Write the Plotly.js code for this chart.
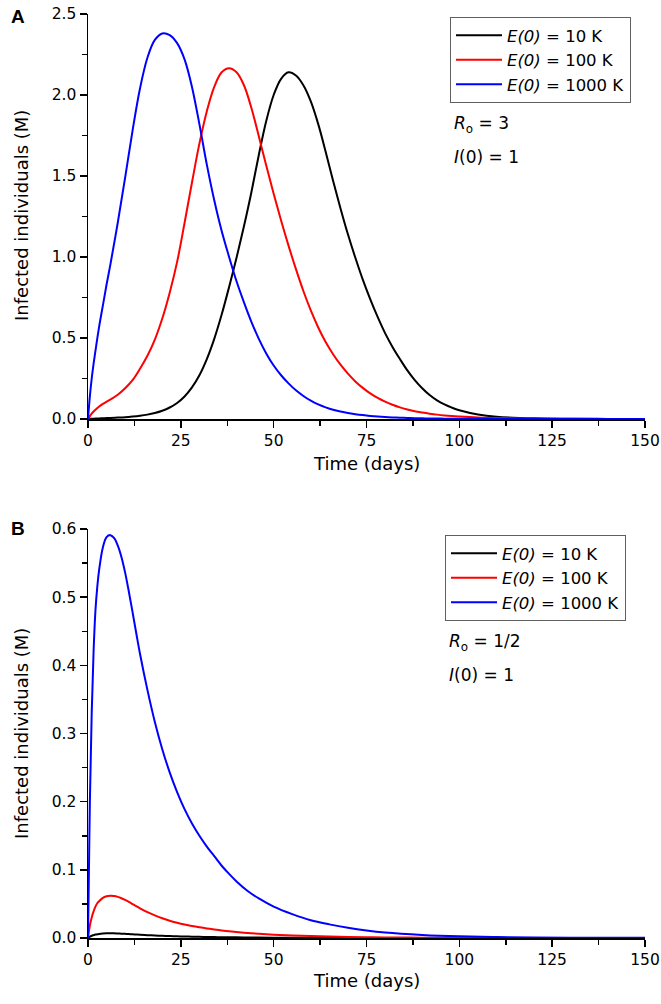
<!DOCTYPE html>
<html>
<head>
<meta charset="utf-8">
<script src="https://cdn.plot.ly/plotly-3.0.1.min.js"></script>
<style>
  html, body { margin: 0; padding: 0; background: #fff; }
  #chart { width: 661px; height: 1004px; }
</style>
</head>
<body>
<div id="chart"></div>
<script>
// ---------- Data ----------
const seriesNames = ['<i>E(0)</i> = 10 K', '<i>E(0)</i> = 100 K', '<i>E(0)</i> = 1000 K'];
const seriesColors = ['#000000', '#ff0000', '#0000ff'];

// Panel A: Ro = 3, I(0) = 1  (time in days, infected in millions)
const timeA = [0,0.5,1,1.5,2,3,4,5,6,8,10,12,14,16,18,20,22,24,26,28,30,32,34,36,38,40,42,44,46,48,50,52,54,56,58,60,62,64,66,68,70,72,74,76,78,80,82,84,86,88,90,92,94,96,98,100,105,110,120,130,140,150];
const infA_10K = [0,0.001,0.0015,0.002,0.0025,0.0035,0.0045,0.0055,0.0065,0.0085,0.011,0.015,0.02,0.027,0.037,0.051,0.071,0.099,0.139,0.195,0.27,0.37,0.495,0.645,0.815,0.995,1.19,1.40,1.63,1.84,2.00,2.10,2.14,2.12,2.06,1.96,1.82,1.65,1.47,1.30,1.14,0.995,0.86,0.74,0.63,0.53,0.445,0.37,0.30,0.24,0.19,0.148,0.115,0.09,0.07,0.054,0.028,0.014,0.004,0.0015,0.0006,0.0002];
const infA_100K = [0,0.018,0.033,0.046,0.057,0.077,0.093,0.107,0.12,0.15,0.19,0.24,0.31,0.39,0.49,0.62,0.78,0.97,1.21,1.46,1.70,1.90,2.05,2.14,2.165,2.14,2.06,1.92,1.745,1.565,1.39,1.225,1.07,0.925,0.79,0.67,0.565,0.475,0.40,0.335,0.28,0.232,0.192,0.158,0.13,0.107,0.088,0.072,0.059,0.048,0.04,0.033,0.027,0.022,0.018,0.015,0.009,0.0055,0.002,0.0008,0.0003,0.0001];
const infA_1000K = [0,0.14,0.25,0.34,0.42,0.57,0.70,0.83,0.95,1.21,1.49,1.78,2.04,2.23,2.34,2.38,2.37,2.32,2.22,2.05,1.82,1.57,1.35,1.16,1.00,0.85,0.72,0.60,0.495,0.405,0.33,0.27,0.22,0.177,0.142,0.113,0.09,0.072,0.057,0.046,0.037,0.03,0.024,0.019,0.015,0.012,0.0097,0.0078,0.0063,0.005,0.004,0.0033,0.0027,0.0022,0.0018,0.0015,0.0009,0.0006,0.0002,0.0001,0.00005,0];

// Panel B: Ro = 1/2, I(0) = 1
const timeB = [0,0.5,1,1.5,2,2.5,3,4,5,6,7,8,9,10,11,12,13,14,16,18,20,22,24,26,28,30,32,34,36,38,40,43,46,50,55,60,65,70,75,80,90,100,110,120,135,150];
const infB_10K = [0,0.002,0.0033,0.0042,0.005,0.0056,0.006,0.0065,0.0068,0.0069,0.0068,0.0066,0.0064,0.0061,0.0058,0.0054,0.0051,0.0048,0.0042,0.0037,0.0032,0.0028,0.0025,0.0022,0.0019,0.0017,0.0015,0.0013,0.0012,0.0011,0.001,0.0008,0.0007,0.0005,0.0004,0.0003,0.0002,0.0002,0.0001,0.0001,0.0001,0,0,0,0,0];
const infB_100K = [0,0.018,0.03,0.039,0.046,0.051,0.054,0.059,0.0612,0.062,0.0615,0.0603,0.0583,0.0558,0.053,0.0498,0.0466,0.0436,0.038,0.0332,0.029,0.0254,0.0224,0.0198,0.0176,0.0157,0.014,0.0125,0.0111,0.0099,0.0088,0.0074,0.0062,0.0049,0.0037,0.0028,0.0021,0.0016,0.0012,0.0009,0.0005,0.0003,0.0002,0.0001,0.00005,0];
const infB_1000K = [0,0.2,0.33,0.42,0.48,0.515,0.54,0.573,0.588,0.591,0.587,0.576,0.559,0.536,0.508,0.478,0.447,0.417,0.364,0.317,0.277,0.243,0.214,0.189,0.168,0.150,0.134,0.12,0.106,0.094,0.083,0.069,0.058,0.046,0.035,0.026,0.02,0.015,0.011,0.008,0.0045,0.0025,0.0015,0.0009,0.0004,0.0002];

const xTickVals = [0,25,50,75,100,125,150];
const yTickValsA = [0.0,0.5,1.0,1.5,2.0,2.5];
const yTickValsB = [0.0,0.1,0.2,0.3,0.4,0.5,0.6];

// ---------- Traces ----------
const seriesA = [infA_10K, infA_100K, infA_1000K];
const seriesB = [infB_10K, infB_100K, infB_1000K];
const traces = [];
seriesA.forEach((ys, i) => traces.push({
  x: timeA, y: ys, type: 'scatter', mode: 'lines', name: seriesNames[i],
  line: {color: seriesColors[i], width: 2, shape: 'spline', smoothing: 1},
  xaxis: 'x', yaxis: 'y', legend: 'legend', cliponaxis: false
}));
seriesB.forEach((ys, i) => traces.push({
  x: timeB, y: ys, type: 'scatter', mode: 'lines', name: seriesNames[i],
  line: {color: seriesColors[i], width: 2, shape: 'spline', smoothing: 1},
  xaxis: 'x2', yaxis: 'y2', legend: 'legend2', cliponaxis: false
}));

// ---------- Layout ----------
const FONT = 'DejaVu Sans, Arial, sans-serif';
const xDom = [88/661, 645/661];
const domA = [1 - 419/1004, 1 - 14/1004];
const domB = [1 - 938/1004, 1 - 529/1004];

function xAxis(anchor) {
  return {
    domain: xDom, anchor: anchor, range: [0, 150], tickvals: xTickVals,
    showline: true, linecolor: '#000', linewidth: 1.5, mirror: false,
    ticks: 'outside', ticklen: 7, tickwidth: 1.5, tickcolor: '#000',
    minor: {dtick: 12.5, tick0: 0, ticks: 'outside', ticklen: 5, tickwidth: 1.5, tickcolor: '#000'},
    showgrid: false, zeroline: false, fixedrange: true,
    tickfont: {family: FONT, size: 15.5, color: '#000'}
  };
}
function yAxis(anchor, dom, range, vals, minorStep) {
  return {
    domain: dom, anchor: anchor, range: range, tickvals: vals, tickformat: '.1f',
    showline: true, linecolor: '#000', linewidth: 1.5,
    ticks: 'outside', ticklen: 7, tickwidth: 1.5, tickcolor: '#000',
    minor: {dtick: minorStep, tick0: 0, ticks: 'outside', ticklen: 5, tickwidth: 1.5, tickcolor: '#000'},
    showgrid: false, zeroline: false, fixedrange: true,
    tickfont: {family: FONT, size: 15.5, color: '#000'}
  };
}
function legendAt(x, y) {
  return {
    x: x, y: y, xanchor: 'left', yanchor: 'top',
    bgcolor: '#fff', bordercolor: '#606060', borderwidth: 1,
    font: {family: FONT, size: 16.5, color: '#000'},
    itemwidth: 46, tracegroupgap: 0, traceorder: 'normal'
  };
}
const txt = (text, x, y, opts) => Object.assign({
  text: text, x: x, y: y, xref: 'paper', yref: 'paper', showarrow: false,
  xanchor: 'left', yanchor: 'middle', font: {family: FONT, size: 17, color: '#000'}
}, opts || {});
const titleFont = {family: FONT, size: 18, color: '#000'};
const panelFont = {family: 'Liberation Sans, Arial, sans-serif', size: 19, color: '#000'};

const layout = {
  width: 661, height: 1004,
  margin: {l: 0, r: 0, t: 0, b: 0},
  paper_bgcolor: '#fff', plot_bgcolor: '#fff',
  showlegend: true,
  xaxis: xAxis('y'),
  yaxis: yAxis('x', domA, [0, 2.5], yTickValsA, 0.25),
  xaxis2: xAxis('y2'),
  yaxis2: yAxis('x2', domB, [0, 0.6], yTickValsB, 0.05),
  legend: legendAt(450/661, 1 - 17/1004),
  legend2: legendAt(445/661, 1 - 535/1004),
  annotations: [
    txt('<b>A</b>', 18/661, 1 - 17/1004, {xanchor: 'center', font: panelFont}),
    txt('<b>B</b>', 18/661, 1 - 528/1004, {xanchor: 'center', font: panelFont}),
    txt('<i>R</i><sub>o</sub> = 3', 452/661, 1 - 124/1004),
    txt('<i>I</i>(0) = 1', 452/661, 1 - 157/1004),
    txt('<i>R</i><sub>o</sub> = 1/2', 447/661, 1 - 642/1004),
    txt('<i>I</i>(0) = 1', 447/661, 1 - 675/1004),
    txt('Time (days)', (88 + 645) / 2 / 661, 1 - 463/1004, {xanchor: 'center', font: titleFont}),
    txt('Time (days)', (88 + 645) / 2 / 661, 1 - 980/1004, {xanchor: 'center', font: titleFont}),
    txt('Infected individuals (M)', 21/661, 1 - 216/1004, {xanchor: 'center', textangle: -90, font: titleFont}),
    txt('Infected individuals (M)', 21/661, 1 - 734/1004, {xanchor: 'center', textangle: -90, font: titleFont})
  ]
};

Plotly.newPlot('chart', traces, layout, {displayModeBar: false, staticPlot: true});
</script>
</body>
</html>
